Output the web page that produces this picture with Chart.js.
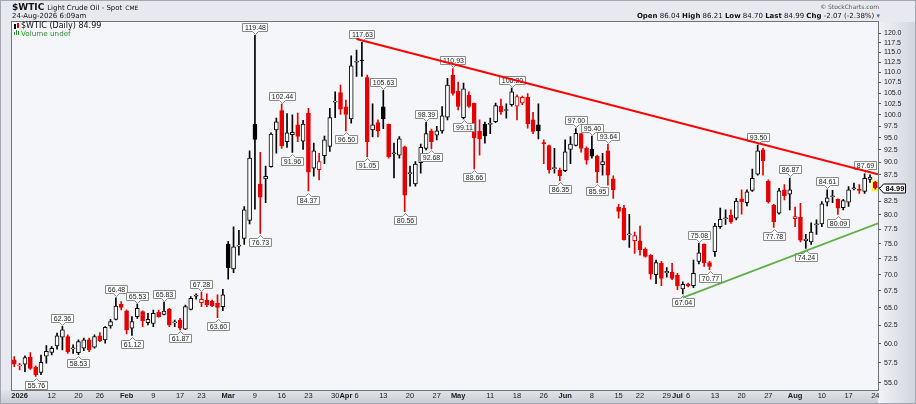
<!DOCTYPE html>
<html>
<head>
<meta charset="utf-8">
<title>$WTIC Light Crude Oil - Spot</title>
<script src="https://cdn.jsdelivr.net/npm/chart.js@4.4.1/dist/chart.umd.min.js"></script>
<style>
  html, body { margin:0; padding:0; background:#e7e9ee; font-size:7px; }
  #wrap { position:relative; width:916px; height:404px; overflow:hidden; background:#e7e9ee; }
  #c { position:absolute; left:0; top:0; width:916px; height:404px; }
  .t { position:absolute; white-space:nowrap; font-family:"DejaVu Sans", Verdana, sans-serif; color:#111; line-height:1; }
</style>
</head>
<body>
<div id="wrap">
  <canvas id="c" width="916" height="404"></canvas>
  <div class="t" style="left:12px;top:2.5px;font-size:9px;"><b>$WTIC</b> <span style="font-size:7px;">Light Crude Oil - Spot</span> <span style="font-size:6px;">CME</span></div>
  <div class="t" style="left:12px;top:12.5px;font-size:7px;">24-Aug-2026 6:09am</div>
  <div class="t" style="right:37px;top:4px;font-size:6px;color:#555;">&copy; StockCharts.com</div>
  <div class="t" style="right:36px;top:12.5px;font-size:7px;"><b>Open</b> 86.04 <b>High</b> 86.21 <b>Low</b> 84.70 <b>Last</b> 84.99 <b>Chg</b> -2.07 (-2.38%) <span style="color:#3a6fb0">&#9662;</span></div>
  <div class="t" style="left:21px;top:22px;font-size:8px;">$WTIC (Daily) 84.99</div>
  <div class="t" style="left:21px;top:29.5px;font-size:7.2px;color:#2f8f2f;">Volume undef</div>
</div>
<script>
// ---------- categories (trading days) ----------
const dec25Days = [31];
const janDays = [2,5,6,7,8,9,12,13,14,15,16,20,21,22,23,26,27,28,29,30];
const febDays = [2,3,4,5,6,9,10,11,12,13,17,18,19,20,23,24,25,26,27];
const marDays = [2,3,4,5,6,9,10,11,12,13,16,17,18,19,20,23,24,25,26,27,30,31];
const aprDays = [1,2,6,7,8,9,10,13,14,15,16,17,20,21,22,23,24,27,28,29,30];
const mayDays = [1,4,5,6,7,8,11,12,13,14,15,18,19,20,21,22,26,27,28,29];
const junDays = [1,2,3,4,5,8,9,10,11,12,15,16,17,18,22,23,24,25,26,29,30];
const julDays = [1,2,6,7,8,9,10,13,14,15,16,17,20,21,22,23,24,27,28,29,30,31];
const augDays = [3,4,5,6,7,10,11,12,13,14,17,18,19,20,21,24];

// ---------- series values ----------
const opens = [
57.86,57.10,57.30,58.20,56.90,56.27,58.33,58.85,59.70,60.87,
60.96,59.30,58.81,59.39,60.51,59.52,61.05,60.51,62.42,63.35,
65.51,64.58,62.10,63.73,64.44,62.88,62.79,64.40,64.06,64.82,
62.85,63.25,61.96,64.78,66.70,65.76,66.15,66.00,65.65,65.17,
74.95,70.9,74.6,75.9,79.0,97.9,85.7,86.7,89.1,96.7,
101.0,94.2,95.7,97.8,94.3,100.4,88.8,88.5,91.3,93.2,
102.9,105.1,101.8,99.1,112.5,113.0,108.7,96.7,98.3,101.8,
97.9,91.7,91.4,93.1,87.7,85.7,89.9,92.8,96.5,95.6,
96.5,99.5,109.3,105.4,99.4,104.5,102.6,96.4,98.0,97.9,
98.5,102.0,101.0,102.3,102.0,102.7,104.0,98.9,97.8,94.0,
93.4,88.7,88.4,88.3,92.6,93.4,95.9,92.8,92.6,91.2,
89.5,92.3,86.7,81.4,81.2,76.5,75.5,75.5,74.1,73.1,
70.0,71.8,70.3,70.4,69.9,67.8,68.5,68.3,72.1,74.9,
71.9,73.7,77.9,79.3,79.9,79.4,82.9,82.2,84.5,87.6,
92.5,86.2,81.7,80.3,84.6,83.8,79.3,79.6,75.5,75.3,
78.2,78.4,82.3,83.3,82.8,81.3,82.3,84.8,84.7,84.3,
86.6,86.04];
const highs = [
58.29,57.43,58.38,58.80,57.10,58.50,59.74,59.61,61.42,62.36,
61.19,59.83,60.51,60.74,60.74,61.19,61.51,62.33,63.35,66.48,
65.90,64.70,63.73,65.53,64.58,64.21,64.68,64.68,65.83,64.92,
63.25,63.49,65.41,66.65,67.05,67.28,67.05,66.15,66.90,67.75,
75.4,77.9,77.3,81.5,92.3,119.48,92.0,89.2,96.1,99.3,
102.44,100.3,100.0,100.4,98.8,101.5,93.9,91.8,95.4,101.5,
105.3,106.9,103.4,114.1,115.6,117.63,109.3,102.5,98.9,105.63,
98.0,93.9,95.3,93.3,89.2,90.1,93.7,98.39,96.9,97.5,
101.9,108.5,110.93,107.6,107.4,105.3,102.7,98.9,98.4,99.3,
102.7,103.6,102.5,106.20,104.6,104.3,104.9,100.6,102.5,94.6,
93.5,92.8,88.8,94.6,95.3,97.00,96.0,93.1,95.40,91.4,
91.8,93.64,87.3,81.9,81.7,80.1,77.0,78.0,74.3,73.2,
72.3,72.1,71.1,71.8,70.2,68.9,68.7,72.3,75.08,75.0,
72.1,78.5,81.2,80.9,80.9,83.0,84.6,84.6,88.6,93.50,
92.8,86.5,81.9,84.9,85.6,86.87,81.4,82.1,76.6,78.6,
79.1,82.4,84.61,84.5,82.9,82.8,85.2,85.9,85.6,87.69,
87.5,86.21];
const lows = [
57.00,56.57,56.36,56.65,55.76,56.00,57.43,58.50,59.26,59.17,
58.72,58.72,58.53,59.08,58.94,59.39,60.28,60.06,62.10,63.25,
64.68,61.32,61.12,63.49,62.33,62.56,62.33,63.64,63.97,62.33,
62.33,61.87,61.90,64.68,66.25,65.17,65.17,65.17,63.60,64.58,
69.3,70.3,73.1,74.9,78.4,81.0,76.73,82.2,89.0,91.8,
92.8,93.0,91.96,94.2,92.6,84.37,87.2,86.5,89.7,92.2,
99.4,100.1,96.50,98.2,109.0,109.0,91.05,95.2,95.2,97.0,
90.8,86.9,90.8,80.56,85.3,85.3,87.8,92.5,92.68,94.6,
96.0,98.9,104.5,101.1,99.11,101.7,88.66,91.4,93.9,95.9,
98.3,100.1,99.3,102.0,98.9,102.3,97.1,95.9,94.8,89.7,
87.8,87.8,86.35,88.1,89.7,93.3,92.0,89.6,90.8,85.95,
87.4,85.5,83.0,79.4,75.6,74.4,73.4,73.1,72.8,69.3,
68.6,68.3,69.6,69.2,67.7,67.04,68.1,68.0,71.7,71.3,
70.77,72.9,77.6,78.3,78.5,79.1,80.1,81.6,84.3,87.4,
87.4,82.1,77.78,80.1,82.7,80.9,77.9,75.3,74.24,74.9,
76.6,77.9,81.6,82.2,80.09,80.9,81.5,84.6,83.9,83.9,
86.0,84.70];
const closes = [
57.30,57.15,58.16,56.78,56.00,57.56,58.98,59.39,61.05,61.87,
58.94,59.45,60.28,60.51,59.17,60.96,60.37,62.24,63.02,65.27,
65.07,61.87,63.02,64.92,63.16,63.35,64.21,63.73,64.54,62.56,
62.90,62.10,65.17,66.40,66.80,66.25,65.41,65.32,65.07,66.90,
71.1,74.5,74.7,80.9,90.8,94.7,83.2,87.2,95.8,98.5,
93.3,96.1,96.2,95.3,98.0,88.0,92.3,90.1,94.6,99.4,
103.1,101.3,100.1,111.6,112.7,112.8,94.2,97.8,96.5,99.1,
91.1,91.9,94.8,83.6,87.9,89.6,93.0,95.9,94.2,96.5,
99.8,106.9,104.9,101.9,106.0,101.9,95.0,94.8,95.4,98.0,
102.1,100.7,101.2,105.3,104.2,104.0,98.0,96.4,96.5,93.8,
88.5,88.9,87.3,92.1,93.7,96.0,92.8,90.4,91.2,88.1,
90.1,87.4,84.6,80.6,75.7,76.7,76.4,74.0,72.9,70.1,
71.9,69.4,70.5,69.4,68.3,68.5,68.3,70.2,73.5,71.9,
71.3,78.0,79.2,79.4,78.8,82.5,82.4,84.2,86.8,92.3,
90.3,82.4,78.8,84.4,83.5,84.6,79.7,75.6,75.8,77.0,
78.4,82.0,83.1,83.4,81.2,82.6,84.6,85.0,84.5,86.8,
87.06,84.99];

// labelled swing points (indices into the series)
const peakIdx = [9,19,23,28,35,45,50,65,69,77,82,93,105,108,111,128,139,145,152,159];
const troughIdx = [4,12,22,31,38,46,52,55,62,66,73,78,84,86,102,109,125,130,142,148,154];

// trend lines (index, price)
const resistX = [64, 161.5];
const resistY = [118.5, 87.6];
const supportX = [125, 161.5];
const supportY = [66.5, 78.5];

// ---------- tick labels ----------
const xTickDates = ['2026-01-02','2026-01-12','2026-01-20','2026-01-26','2026-02-02','2026-02-09','2026-02-17','2026-02-23',
  '2026-03-02','2026-03-09','2026-03-16','2026-03-23','2026-03-30','2026-04-01','2026-04-06','2026-04-13','2026-04-20','2026-04-27',
  '2026-05-01','2026-05-11','2026-05-18','2026-05-26','2026-06-01','2026-06-08','2026-06-15','2026-06-22','2026-06-29',
  '2026-07-01','2026-07-06','2026-07-13','2026-07-20','2026-07-27','2026-08-03','2026-08-10','2026-08-17','2026-08-24'];
const xTickText = ['2026','12','20','26','Feb','9','17','23','Mar','9','16','23','30','Apr','6','13','20','27',
  'May','11','18','26','Jun','8','15','22','29','Jul','6','13','20','27','Aug','10','17','24'];
const yTicks = [55,57.5,60,62.5,65,67.5,70,72.5,75,77.5,80,82.5,85,87.5,90,92.5,95,97.5,100,102.5,105,107.5,110,112.5,115,117.5,120];

// ---------- build ----------
const pad2 = n => String(n).padStart(2,'0');
const dates = [].concat(
  dec25Days.map(d => '2025-12-' + pad2(d)),
  janDays.map(d => '2026-01-' + pad2(d)),
  febDays.map(d => '2026-02-' + pad2(d)),
  marDays.map(d => '2026-03-' + pad2(d)),
  aprDays.map(d => '2026-04-' + pad2(d)),
  mayDays.map(d => '2026-05-' + pad2(d)),
  junDays.map(d => '2026-06-' + pad2(d)),
  julDays.map(d => '2026-07-' + pad2(d)),
  augDays.map(d => '2026-08-' + pad2(d))
);
const N = dates.length;
const xTickIdx = xTickDates.map(d => dates.indexOf(d));
const boldTicks = new Set(['2026','Feb','Mar','Apr','May','Jun','Jul','Aug']);

const RED = '#e40000', BLK = '#000000', HOLLOW = '#ffffff', PLOT_BG = '#f5f6fa';
const candleColor = closes.map((c, i) => (i > 0 && c >= closes[i-1]) ? BLK : RED);
const bodyFill = closes.map((c, i) => c >= opens[i] ? HOLLOW : candleColor[i]);
const bodyData = closes.map((c, i) => ({x: i, y: [Math.min(opens[i], c), Math.max(opens[i], c)]}));
const wickData = highs.map((h, i) => ({x: i, y: [lows[i], h]}));

const yMin = 54.10, yMax = 123.07;
const BODY_INDEX = 2;
const LBL_FONT = '7px "Liberation Sans", Arial, sans-serif';

function tag(ctx, px, py, text, above) {
  const w = Math.ceil(ctx.measureText(text).width) + 4;
  const h = 8, ph = 3, gap = 1.5;
  const cx = Math.round(px) + 0.5;
  const L = Math.round(px - w / 2) + 0.5, R = L + w;
  let tip, edge, far;
  if (above) { tip = py - gap; edge = tip - ph; far = edge - h; }
  else { tip = py + gap; edge = tip + ph; far = edge + h; }
  tip = Math.round(tip) + 0.5; edge = Math.round(edge) + 0.5; far = Math.round(far) + 0.5;
  ctx.beginPath();
  ctx.moveTo(L, far); ctx.lineTo(R, far); ctx.lineTo(R, edge);
  ctx.lineTo(cx + 3, edge); ctx.lineTo(cx, tip); ctx.lineTo(cx - 3, edge);
  ctx.lineTo(L, edge); ctx.closePath();
  ctx.fillStyle = '#ffffff'; ctx.fill();
  ctx.strokeStyle = '#8a8a8a'; ctx.lineWidth = 1; ctx.stroke();
  ctx.fillStyle = '#222222'; ctx.textAlign = 'center'; ctx.textBaseline = 'middle';
  ctx.fillText(text, cx, (edge + far) / 2 + 0.5);
}

const decorPlugin = {
  id: 'decor',
  beforeDraw(chart) {
    const {ctx, chartArea: a, width, height} = chart;
    ctx.save();
    ctx.fillStyle = '#e7e9ee'; ctx.fillRect(0, 0, width, height);
    let g = ctx.createLinearGradient(a.right, 0, width, 0);
    g.addColorStop(0, '#f1f2f6'); g.addColorStop(1, '#d2d5dd');
    ctx.fillStyle = g; ctx.fillRect(a.right, a.top, width - a.right, height - a.top);
    g = ctx.createLinearGradient(0, a.bottom, 0, height);
    g.addColorStop(0, '#e3e5eb'); g.addColorStop(1, '#c8cbd4');
    ctx.fillStyle = g; ctx.fillRect(0, a.bottom, a.right, height - a.bottom);
    ctx.fillStyle = PLOT_BG; ctx.fillRect(a.left, a.top, a.right - a.left, a.bottom - a.top);
    ctx.restore();
  },
  beforeDatasetsDraw(chart) {
    const {ctx, scales: {x, y}} = chart;
    const i = N - 1;
    const px = x.getPixelForValue(i);
    const yH = y.getPixelForValue(highs[i]), yL = y.getPixelForValue(lows[i]);
    ctx.save();
    ctx.fillStyle = '#ffff3c';
    ctx.fillRect(px - 3.5, yH - 1, 7, yL - yH + 3);
    ctx.restore();
  },
  afterDatasetDraw(chart, args) {
    if (args.index !== BODY_INDEX) return;
    const {ctx, scales: {x, y}} = chart;
    ctx.save();
    ctx.font = LBL_FONT;
    peakIdx.forEach(i => tag(ctx, x.getPixelForValue(i), y.getPixelForValue(highs[i]), highs[i].toFixed(2), true));
    troughIdx.forEach(i => tag(ctx, x.getPixelForValue(i), y.getPixelForValue(lows[i]), lows[i].toFixed(2), false));
    ctx.restore();
  },
  afterDraw(chart) {
    const {ctx, chartArea: a, width, height, scales: {y}} = chart;
    ctx.save();
    ctx.strokeStyle = '#6f737c'; ctx.lineWidth = 1;
    ctx.strokeRect(Math.round(a.left) - 0.5, Math.round(a.top) - 0.5, Math.round(a.right - a.left) + 1, Math.round(a.bottom - a.top) + 1);
    ctx.strokeStyle = '#a3a7b0';
    ctx.strokeRect(0.5, 0.5, width - 1, height - 1);
    const yc = Math.round(y.getPixelForValue(closes[N - 1])) + 0.5;
    const L = Math.round(a.right) + 0.5;
    ctx.beginPath();
    ctx.moveTo(L + 1, yc); ctx.lineTo(L + 5, yc - 4.5); ctx.lineTo(L + 27, yc - 4.5);
    ctx.lineTo(L + 27, yc + 4.5); ctx.lineTo(L + 5, yc + 4.5); ctx.closePath();
    ctx.fillStyle = '#ffffff'; ctx.fill();
    ctx.strokeStyle = '#000000'; ctx.stroke();
    ctx.fillStyle = '#000000';
    ctx.font = 'bold 7.5px "Liberation Sans", Arial, sans-serif';
    ctx.textAlign = 'center'; ctx.textBaseline = 'middle';
    ctx.fillText(closes[N - 1].toFixed(2), L + 16.5, yc + 0.5);
    ctx.fillStyle = '#000'; ctx.fillRect(14, 24, 2, 5);
    ctx.fillStyle = RED; ctx.fillRect(17, 23, 2, 5);
    ctx.fillStyle = '#2f8f2f';
    ctx.fillRect(14, 32, 1, 3); ctx.fillRect(16, 30, 1, 5); ctx.fillRect(18, 31, 1, 4);
    ctx.restore();
  }
};

const FONT_FAMILY = '"Liberation Sans", Arial, sans-serif';

new Chart(document.getElementById('c'), {
  type: 'bar',
  data: {
    datasets: [
      { type: 'line', label: 'Resistance', data: resistX.map((v, k) => ({x: v, y: resistY[k]})),
        borderColor: '#ff0000', borderWidth: 2, pointRadius: 0, fill: false, order: 0 },
      { type: 'line', label: 'Support', data: supportX.map((v, k) => ({x: v, y: supportY[k]})),
        borderColor: '#5fae4a', borderWidth: 1.7, pointRadius: 0, fill: false, order: 0 },
      { type: 'bar', label: 'Body', data: bodyData, backgroundColor: bodyFill, borderColor: candleColor,
        borderWidth: 1, borderSkipped: false, barThickness: 4, grouped: false, minBarLength: 1, order: 1 },
      { type: 'bar', label: 'Wick', data: wickData, backgroundColor: candleColor, borderWidth: 0,
        barThickness: 1, grouped: false, order: 2 }
    ]
  },
  options: {
    responsive: false,
    animation: false,
    events: [],
    layout: { padding: { left: 11.6, top: 22, right: 0, bottom: 0 } },
    plugins: { legend: { display: false }, tooltip: { enabled: false } },
    scales: {
      x: {
        type: 'linear', min: -0.5, max: N - 0.5, offset: false, bounds: 'data',
        grid: { display: false, drawTicks: false, offset: false },
        border: { display: false },
        afterBuildTicks: ax => { ax.ticks = xTickIdx.map(v => ({value: v})); },
        afterFit: ax => { ax.height = 14; },
        ticks: {
          autoSkip: false, maxRotation: 0, minRotation: 0, padding: 1.5, color: '#1a1a1a',
          font: ctx => ({ family: FONT_FAMILY, size: 7.5, weight: boldTicks.has(xTickText[ctx.index]) ? 'bold' : 'normal' }),
          callback: (v, idx) => xTickText[idx]
        }
      },
      y: {
        type: 'logarithmic', position: 'right', min: yMin, max: yMax, bounds: 'data',
        grid: { drawOnChartArea: false, drawTicks: true, tickLength: 3, color: '#555' },
        border: { display: false },
        afterBuildTicks: ax => { ax.ticks = yTicks.map(v => ({value: v})); },
        afterFit: ax => { ax.width = 38; },
        ticks: {
          autoSkip: false, padding: 3, color: '#1a1a1a',
          font: { family: FONT_FAMILY, size: 7 },
          callback: v => Number(v).toFixed(1)
        }
      }
    }
  },
  plugins: [decorPlugin]
});
</script>
</body>
</html>
